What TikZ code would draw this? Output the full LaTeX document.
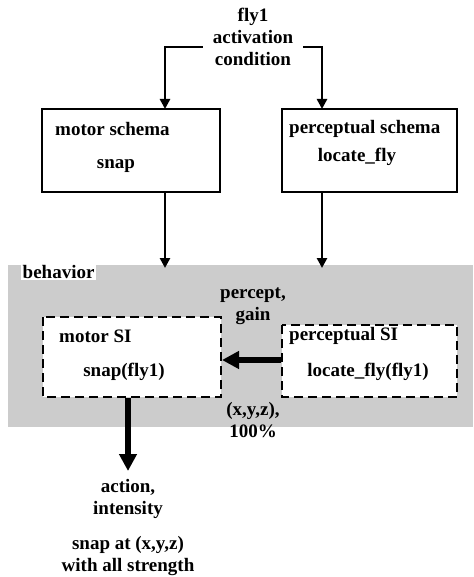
\documentclass[tikz,border=0pt]{standalone}
\usepackage{fontspec}
\setmainfont{Liberation Serif}
\usetikzlibrary{arrows.meta}
\begin{document}
\begin{tikzpicture}[x=1pt,y=-1pt,
  txt/.style={font=\fontsize{19}{22}\selectfont\bfseries, inner sep=0pt, align=center},
  ltxt/.style={font=\fontsize{19}{22}\selectfont\bfseries, inner sep=0pt, anchor=west},
  schemabox/.style={draw, line width=2.4pt, fill=white},
  sibox/.style={draw, line width=2.6pt, dash pattern=on 9pt off 5pt, fill=white},
  thin arrow/.style={line width=2.6pt, -{Triangle[length=10pt,width=10pt]}},
  thick arrow/.style={line width=6pt, -{Triangle[length=17pt,width=17pt]}}
]
\useasboundingbox (0,0) rectangle (473,577);

% behavior area
\fill[black!20] (8,265) rectangle (473,427);
\node[ltxt, fill=white, inner sep=1.5pt] (beh) at (21,272) {behavior};

% activation condition
\node[txt] (act) at (253,37) {fly1\\activation\\condition};
\coordinate (lc) at (165,47);
\coordinate (rc) at (322,47);

% schema boxes
\draw[schemabox] (42,109) rectangle (220,192);
\node (msT) at (165,109) {};
\node (msB) at (165,192) {};
\node[ltxt] (msname) at (55,129) {motor schema};
\node[txt] (msbody) at (116,166) {snap};

\draw[schemabox] (282,109) rectangle (457,192);
\node (psT) at (322,109) {};
\node (psB) at (322,192) {};
\node[ltxt] (psname) at (289,129) {perceptual schema};
\node[txt] (psbody) at (357,157) {locate\_fly};

% schema instances
\draw[sibox] (43,317) rectangle (221,397);
\node[ltxt] (miname) at (59,336) {motor SI};
\node[txt] (mibody) at (124,372) {snap(fly1)};
\coordinate (miR) at (222,360);
\coordinate (miB) at (128,398);

\draw[sibox] (282,325) rectangle (457,397);
\node[ltxt] (piname) at (289,336) {perceptual SI};
\node[txt] (pibody) at (368,372) {locate\_fly(fly1)};
\coordinate (piL) at (281,360);

% labels
\node[txt] (pg) at (253,306) {percept,\\gain};
\node[txt] (xyz) at (253,420) {(x,y,z),\\100\%};
\node[txt] (ai) at (128,499) {action,\\intensity};
\node[txt] (snapat) at (128,556) {snap at (x,y,z)\\with all strength};
\coordinate (aiT) at (128,471);

% connectors
\draw[thin arrow] ([xshift=-10pt]act.west |- lc) -- (lc) -- (msT.center);
\draw[thin arrow] ([xshift=10pt]act.east |- rc) -- (rc) -- (psT.center);
\draw[thin arrow] (msB.center) -- (165,268);
\draw[thin arrow] (psB.center) -- (322,268);
\draw[thick arrow] (piL) -- (miR);
\draw[thick arrow] (miB) -- (aiT);
\end{tikzpicture}
\end{document}
